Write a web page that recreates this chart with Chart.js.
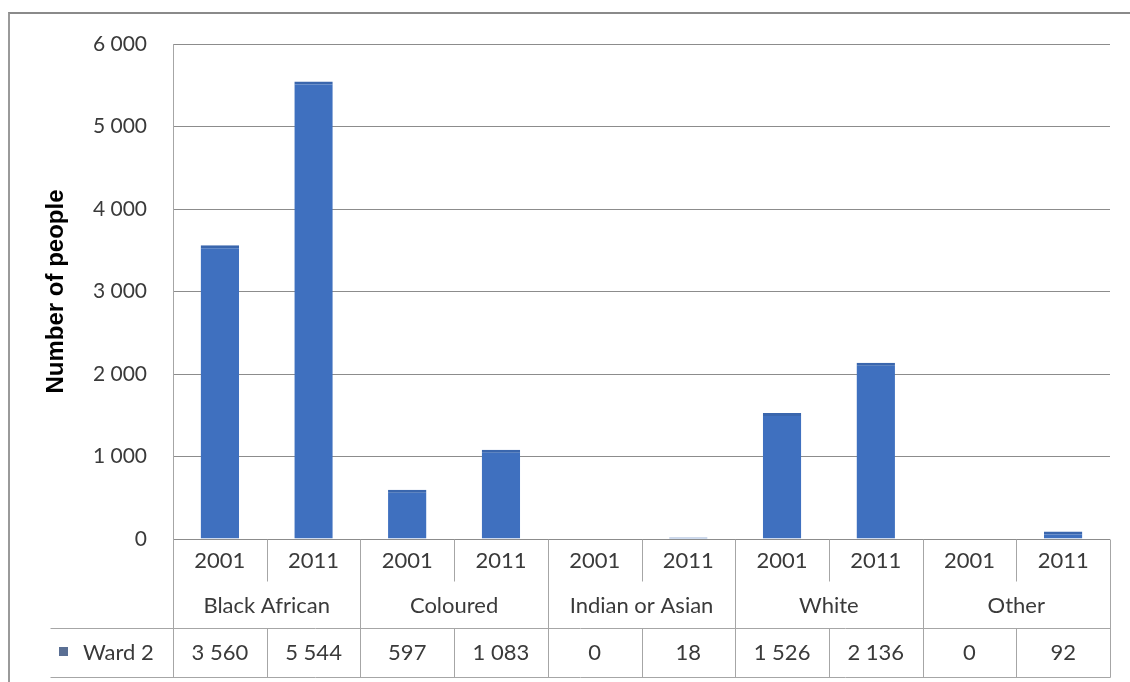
<!DOCTYPE html>
<html>
<head>
<meta charset="utf-8">
<script src="https://cdn.jsdelivr.net/npm/chart.js@4/dist/chart.umd.min.js"></script>
<style>
    html, body { margin: 0; padding: 0; background: #fff; }
    .wrap { position: relative; width: 1130px; height: 682px; }
    .frame { position: absolute; left: 8px; top: 12px; right: 0; bottom: 0;
             border-left: 2px solid #9a9a9a; border-top: 2px solid #8a8a8a; }
    canvas { position: absolute; left: 0; top: 0; }
</style>
</head>
<body>
<div class="wrap">
    <div class="frame"></div>
    <canvas id="chart" width="1130" height="682"></canvas>
</div>
<script>
const groups = ["Black African", "Coloured", "Indian or Asian", "White", "Other"];
const years = ["2001", "2011"];
const seriesName = "Ward 2";
const ward2 = [3560, 5544, 597, 1083, 0, 18, 1526, 2136, 0, 92];
const yTicks = [0, 1000, 2000, 3000, 4000, 5000, 6000];

const FONT = "Lato, 'Open Sans', sans-serif";
const TEXT = "#3a3a3a";
const LINE = "#a6a6a6";
const BAR = "#3f70bf";

// one label per bar: group + year
const labels = [];
groups.forEach(g => years.forEach(y => labels.push(g + " " + y)));

function fmt(v) {
    return String(v).replace(/\B(?=(\d{3})+(?!\d))/g, " ");
}

// data table under the plot: years, groups, then the series row
const dataTable = {
    id: "dataTable",
    afterDraw(chart) {
        const ctx = chart.ctx;
        const x = chart.scales.x;
        const area = chart.chartArea;
        const n = labels.length;
        const step = (area.right - area.left) / n;
        const top = area.bottom;
        const yearBottom = top + 42;
        const rowTop = top + 89;
        const rowBottom = rowTop + 49;
        const tableLeft = 50;

        ctx.save();
        ctx.strokeStyle = LINE;
        ctx.lineWidth = 1;
        const line = (x1, y1, x2, y2) => {
            ctx.beginPath();
            ctx.moveTo(Math.round(x1) + 0.5, Math.round(y1) + 0.5);
            ctx.lineTo(Math.round(x2) + 0.5, Math.round(y2) + 0.5);
            ctx.stroke();
        };

        // horizontal rules of the series row
        line(tableLeft, rowTop, area.right, rowTop);
        line(tableLeft, rowBottom, area.right, rowBottom);

        // left edge of the table
        line(area.left, top, area.left, rowBottom);

        for (let i = 1; i <= n; i++) {
            const bx = area.left + step * i;
            if (i % years.length === 0) {
                line(bx, top, bx, rowBottom);
            } else {
                line(bx, top, bx, yearBottom);
                line(bx, rowTop, bx, rowBottom);
            }
        }

        ctx.fillStyle = TEXT;
        ctx.font = "22px " + FONT;
        ctx.textAlign = "center";
        ctx.textBaseline = "middle";

        labels.forEach((_, i) => {
            const cx = x.getPixelForValue(i);
            ctx.fillText(years[i % years.length], cx, top + 22);
            ctx.fillText(fmt(ward2[i]), cx, rowTop + 25);
        });

        groups.forEach((g, gi) => {
            const cx = area.left + step * (gi * years.length + years.length / 2);
            ctx.fillText(g, cx, top + 67);
        });

        // legend key + series name
        ctx.fillStyle = "#5a6f94";
        ctx.fillRect(tableLeft + 9, rowTop + 19, 9, 9);
        ctx.fillStyle = TEXT;
        ctx.textAlign = "left";
        ctx.fillText(seriesName, tableLeft + 33, rowTop + 25);
        ctx.restore();
    }
};

new Chart(document.getElementById("chart"), {
    type: "bar",
    data: {
        labels: labels,
        datasets: [{
            label: seriesName,
            data: ward2,
            backgroundColor: BAR,
            borderColor: "#3a66ad",
            borderWidth: { top: 3, left: 0, right: 0, bottom: 0 },
            borderSkipped: "bottom",
            barPercentage: 0.41,
            categoryPercentage: 1
        }]
    },
    options: {
        responsive: false,
        animation: false,
        layout: { padding: { top: 44, right: 20, bottom: 143, left: 0 } },
        plugins: {
            legend: { display: false },
            tooltip: { enabled: false }
        },
        scales: {
            x: { display: false },
            y: {
                min: 0,
                max: 6000,
                afterBuildTicks(scale) {
                    scale.ticks = yTicks.map(v => ({ value: v }));
                },
                afterFit(scale) { scale.width = 173; },
                border: { display: true, color: LINE },
                grid: { color: "#8c8c8c", drawTicks: false },
                ticks: {
                    padding: 26,
                    color: TEXT,
                    font: { family: FONT, size: 21 },
                    callback: v => fmt(v)
                },
                title: {
                    display: true,
                    text: "Number of people",
                    color: "#000",
                    font: { family: "'Liberation Sans', Arial, sans-serif", size: 24, weight: "bold" },
                    padding: { top: 42, bottom: 0 }
                }
            }
        }
    },
    plugins: [dataTable]
});
</script>
</body>
</html>
